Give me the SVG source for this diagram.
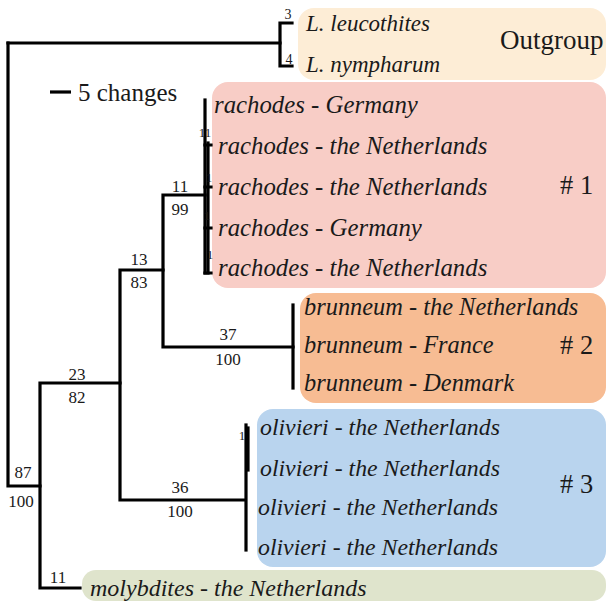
<svg xmlns="http://www.w3.org/2000/svg" width="608" height="605" viewBox="0 0 608 605">
<style>
.sp{font-family:"Liberation Serif","Times New Roman",serif;font-style:italic;font-size:23px;fill:#1a1a1a}
.r{font-size:24.8px}
.b{font-size:24.4px}
.o{font-size:23.8px}
.m{font-size:24px}
.grp{font-family:"Liberation Serif","Times New Roman",serif;font-size:26.5px;fill:#1a1a1a}
.og{font-size:27px}
.num{font-family:"Liberation Serif","Times New Roman",serif;font-size:17px;fill:#1a1a1a;text-anchor:middle}
.sm{font-family:"Liberation Serif","Times New Roman",serif;font-size:13px;fill:#1a1a1a;text-anchor:middle}
.sm14{font-size:14px}
.br{fill:none;stroke:#000;stroke-width:3.2;stroke-linecap:square;stroke-linejoin:miter}
</style>
<rect width="608" height="605" fill="#ffffff"/>
<g id="clade-outgroup"><rect x="298" y="8" width="308" height="72" rx="16" fill="#fdedd6"/><text class="grp og" x="500" y="49">Outgroup</text></g>
<g id="clade-1"><rect x="212" y="82" width="394" height="206" rx="16" fill="#f8cdc6"/><text class="grp" x="560" y="194">#&#160;1</text></g>
<g id="clade-2"><rect x="300" y="293" width="306" height="110" rx="16" fill="#f7bc93"/><text class="grp" x="560" y="354">#&#160;2</text></g>
<g id="clade-3"><rect x="257" y="409" width="349" height="158" rx="16" fill="#b9d4ee"/><text class="grp" x="560" y="493">#&#160;3</text></g>
<g id="clade-molybdites"><rect x="82" y="570" width="524" height="31" rx="14" fill="#dfe4cc"/></g>
<g id="scale"><line x1="50" y1="92" x2="71" y2="92" stroke="#000" stroke-width="3.2"/><text x="78" y="101" font-family="Liberation Serif, serif" font-size="25" fill="#1a1a1a">5 changes</text></g>
<g id="connectors">
<path class="br" d="M8,43 H280"/>
<path class="br" d="M8,43 V486 H40"/>
<path class="br" d="M292,23 H280 V66 H292"/>
<path class="br" d="M120,383 H40 V588 H80"/>
<path class="br" d="M163,270 H120 V500 H245"/>
<path class="br" d="M205,195 H163 V347 H293"/>
<path class="br" d="M205,100 V273"/>
<path class="br" d="M208,143 V273"/>
<path class="br" d="M205,145 H211 M205,187 H211 M205,228 H211 M205,273 H211"/>
<path class="br" d="M293,305 V388"/>
<path class="br" d="M246,425 V550"/>
<path class="br" d="M248,428 V470"/>
</g>
<g id="labels">
<text class="sm sm14" x="288" y="19">3</text>
<text class="sm sm14" x="289" y="64">4</text>
<text class="sm" x="205" y="137">11</text>
<text class="sm" x="209" y="182">1</text>
<text class="sm" x="207" y="220">1</text>
<text class="sm" x="210" y="259">1</text>
<text class="sm" x="242" y="440">1</text>
<text class="num" x="180" y="192">11</text>
<text class="num" x="180" y="215">99</text>
<text class="num" x="139" y="265">13</text>
<text class="num" x="139" y="288">83</text>
<text class="num" x="77" y="380">23</text>
<text class="num" x="77" y="403">82</text>
<text class="num" x="23" y="478">87</text>
<text class="num" x="21" y="507">100</text>
<text class="num" x="228" y="340">37</text>
<text class="num" x="228" y="365">100</text>
<text class="num" x="180" y="493">36</text>
<text class="num" x="180" y="517">100</text>
<text class="num" x="58" y="583">11</text>
</g>
<g id="leaf-leucothites"><text class="sp" x="306" y="31">L. leucothites</text></g>
<g id="leaf-nympharum"><text class="sp" x="306" y="72">L. nympharum</text></g>
<g id="leaf-rachodes-1"><text class="sp r" x="214" y="113">rachodes - Germany</text></g>
<g id="leaf-rachodes-2"><text class="sp r" x="218" y="154">rachodes - the Netherlands</text></g>
<g id="leaf-rachodes-3"><text class="sp r" x="218" y="195">rachodes - the Netherlands</text></g>
<g id="leaf-rachodes-4"><text class="sp r" x="218" y="236">rachodes - Germany</text></g>
<g id="leaf-rachodes-5"><text class="sp r" x="218" y="276">rachodes - the Netherlands</text></g>
<g id="leaf-brunneum-1"><text class="sp b" x="304" y="315">brunneum - the Netherlands</text></g>
<g id="leaf-brunneum-2"><text class="sp b" x="304" y="353">brunneum - France</text></g>
<g id="leaf-brunneum-3"><text class="sp b" x="304" y="391">brunneum - Denmark</text></g>
<g id="leaf-olivieri-1"><text class="sp o" x="260" y="435">olivieri - the Netherlands</text></g>
<g id="leaf-olivieri-2"><text class="sp o" x="260" y="476">olivieri - the Netherlands</text></g>
<g id="leaf-olivieri-3"><text class="sp o" x="258" y="515">olivieri - the Netherlands</text></g>
<g id="leaf-olivieri-4"><text class="sp o" x="258" y="555">olivieri - the Netherlands</text></g>
<g id="leaf-molybdites"><text class="sp m" x="90" y="596">molybdites - the Netherlands</text></g>
</svg>
